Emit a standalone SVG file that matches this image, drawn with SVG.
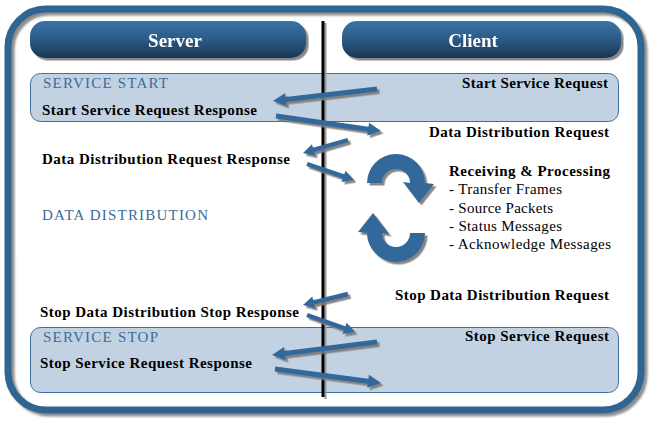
<svg xmlns="http://www.w3.org/2000/svg" width="652" height="424" viewBox="0 0 652 424">
<defs>
<linearGradient id="hdr" x1="0" y1="0" x2="0" y2="1">
<stop offset="0" stop-color="#3b74a5"/>
<stop offset="0.5" stop-color="#2a5a86"/>
<stop offset="1" stop-color="#1b3654"/>
</linearGradient>
<filter id="sh" x="-5%" y="-5%" width="112%" height="115%">
<feDropShadow dx="2.5" dy="2.5" stdDeviation="0.6" flood-color="#7a7a7a" flood-opacity="0.9"/>
</filter>
<filter id="sh2" x="-5%" y="-5%" width="112%" height="115%">
<feDropShadow dx="3" dy="3" stdDeviation="0.8" flood-color="#808080" flood-opacity="0.9"/>
</filter>
</defs>
<style>
text{font-family:"Liberation Serif","Times New Roman",Times,"Nimbus Roman","FreeSerif","Noto Serif","DejaVu Serif",serif}
.t{font-size:15px;fill:#000}
.b{font-weight:bold}
.blue{fill:#3a6d9a}
.hd{font-size:19px;font-weight:bold;fill:#fff;text-anchor:middle}
.band{fill:#c2d2e2;stroke:#3f6f9b;stroke-width:1}
.arr{fill:#31679a}
</style>
<rect width="652" height="424" fill="#fff"/>
<g id="frame" filter="url(#sh2)">
<rect x="8" y="9" width="633" height="401" rx="38" ry="38" fill="none" stroke="#2f6592" stroke-width="7"/>
</g>
<g id="node-service-start">
<rect class="band" x="30.5" y="73.5" width="588" height="48" rx="10"/>
<text class="t blue" x="43" y="88" textLength="125">SERVICE START</text>
</g>
<g id="node-service-stop">
<rect class="band" x="30.5" y="327.5" width="588" height="65" rx="10"/>
<text class="t blue" x="43" y="342" textLength="115">SERVICE STOP</text>
</g>
<g id="node-server" filter="url(#sh)">
<rect x="30" y="21" width="276" height="37" rx="15" fill="url(#hdr)"/>
<text class="hd" x="175" y="47">Server</text>
</g>
<g id="node-client" filter="url(#sh)">
<rect x="342" y="21" width="279" height="37" rx="15" fill="url(#hdr)"/>
<text class="hd" x="473" y="47">Client</text>
</g>
<g id="lifeline">
<line x1="325.5" y1="23" x2="325.5" y2="399" stroke="#999" stroke-width="2"/>
<line x1="323" y1="21" x2="323" y2="397" stroke="#000" stroke-width="3"/>
</g>
<g id="labels">
<text class="t b" x="42" y="115" textLength="215">Start Service Request Response</text>
<text class="t b" x="462" y="88" textLength="146">Start Service Request</text>
<text class="t b" x="429" y="137" textLength="180">Data Distribution Request</text>
<text class="t b" x="42" y="164" textLength="248">Data Distribution Request Response</text>
<text class="t blue" x="42" y="220" textLength="166">DATA DISTRIBUTION</text>
<text class="t b" x="449" y="176" textLength="161">Receiving &amp; Processing</text>
<text class="t" x="449" y="194" textLength="113">- Transfer Frames</text>
<text class="t" x="449" y="213" textLength="104">- Source Packets</text>
<text class="t" x="449" y="231" textLength="113">- Status Messages</text>
<text class="t" x="449" y="249" textLength="162">- Acknowledge Messages</text>
<text class="t b" x="395" y="300" textLength="214">Stop Data Distribution Request</text>
<text class="t b" x="40" y="317" textLength="259">Stop Data Distribution Stop Response</text>
<text class="t b" x="465" y="341" textLength="144">Stop Service Request</text>
<text class="t b" x="40" y="368" textLength="212">Stop Service Request Response</text>
</g>
<g id="connectors" class="arr" filter="url(#sh)">
<path d="M0,-2.5H91.7V-6.5L104.7,0L91.7,6.5V2.5H0Z" transform="translate(377,89) rotate(173.4)"/>
<path d="M0,-2.5H93.1V-6.5L106.1,0L93.1,6.5V2.5H0Z" transform="translate(276,116) rotate(8.13)"/>
<path d="M0,-2.2H35.8V-6L46.8,0L35.8,6V2.2H0Z" transform="translate(348,140) rotate(163.9)"/>
<path d="M0,-2.2H38.6V-6L49.6,0L38.6,6V2.2H0Z" transform="translate(307,164) rotate(18.8)"/>
<path d="M0,-2.2H35.3V-6L46.3,0L35.3,6V2.2H0Z" transform="translate(348,294) rotate(166.3)"/>
<path d="M0,-2.2H39.9V-6L50.9,0L39.9,6V2.2H0Z" transform="translate(307,315) rotate(19.5)"/>
<path d="M0,-2.5H92.8V-6.5L105.8,0L92.8,6.5V2.5H0Z" transform="translate(377,342) rotate(172.9)"/>
<path d="M0,-2.5H93.9V-6.5L106.9,0L93.9,6.5V2.5H0Z" transform="translate(275,369) rotate(7.52)"/>
</g>
<g id="cycle" class="arr" filter="url(#sh)">
<path d="M367,183A29,29 0 0 1 425,183L434,184L419,203L403,182L410,183A14,14 0 0 0 382,183Z"/>
<path d="M367,183A29,29 0 0 1 425,183L434,184L419,203L403,182L410,183A14,14 0 0 0 382,183Z" transform="rotate(180,396,208)"/>
</g>
</svg>
